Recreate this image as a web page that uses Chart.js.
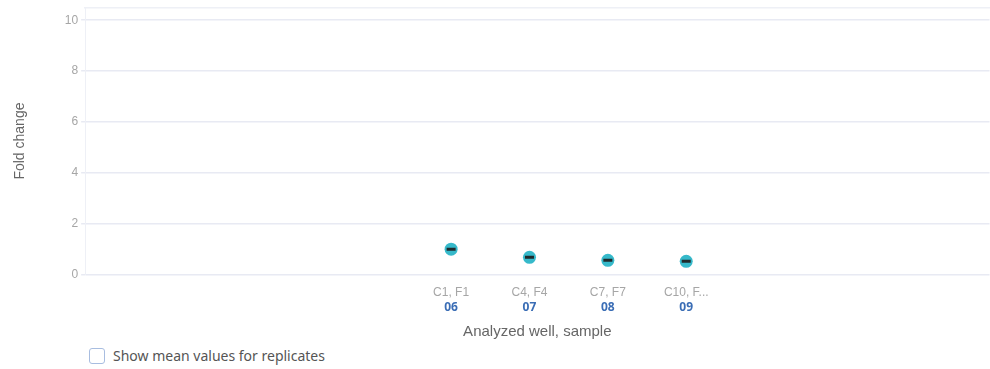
<!DOCTYPE html>
<html lang="en">
<head>
    <meta charset="UTF-8">
    <title>Fold change</title>
    <script src="https://cdn.jsdelivr.net/npm/chart.js"></script>
    <style>
        body {
            margin: 0;
            background: #fff;
            overflow: hidden;
            font-family: "Noto Sans", Lato, sans-serif;
        }
        .wrap {
            position: relative;
            width: 997px;
            height: 345px;
        }
        .mean-toggle {
            position: absolute;
            left: 89px;
            top: 346px;
            display: flex;
            align-items: center;
            font-size: 14px;
            color: #555;
        }
        .mean-toggle span.box {
            width: 14px;
            height: 14px;
            border: 1.5px solid #a8bde0;
            border-radius: 3px;
            margin-right: 8px;
        }
    </style>
</head>
<body>

    <div class="wrap">
        <canvas id="foldChart"></canvas>
    </div>
    <div class="mean-toggle"><span class="box"></span>Show mean values for replicates</div>

    <script>
        // wells and sample ids
        const wells = ["C1, F1", "C4, F4", "C7, F7", "C10, F..."];
        const samples = ["06", "07", "08", "09"];
        const foldChange = [1.0, 0.68, 0.56, 0.52];
        const yTicks = [0, 2, 4, 6, 8, 10];

        const points = foldChange.map((v, i) => ({ x: i, y: v }));

        // second tick line (sample id) drawn in blue bold
        const sampleLabels = {
            id: 'sampleLabels',
            afterDraw(chart) {
                const xs = chart.scales.x;
                const c = chart.ctx;
                c.save();
                c.font = 'bold 12px "Noto Sans", Lato, sans-serif';
                c.fillStyle = '#3a6db5';
                c.textAlign = 'center';
                c.textBaseline = 'middle';
                samples.forEach((s, i) => {
                    c.fillText(s, xs.getPixelForValue(i), xs.top + 33);
                });
                c.restore();
            }
        };

        new Chart(document.getElementById('foldChart'), {
            type: 'scatter',
            data: {
                datasets: [{
                    // mean dash on top
                    data: points,
                    pointStyle: 'line',
                    pointRadius: 4.5,
                    pointHoverRadius: 4.5,
                    borderColor: '#1f2a2c',
                    borderWidth: 3
                }, {
                    data: points,
                    pointStyle: 'circle',
                    pointRadius: 6.5,
                    pointHoverRadius: 6.5,
                    backgroundColor: '#36b9ca',
                    borderColor: '#36b9ca',
                    borderWidth: 0
                }]
            },
            options: {
                responsive: true,
                maintainAspectRatio: false,
                animation: false,
                layout: { padding: { top: 6, left: 8, right: 0, bottom: 0 } },
                plugins: {
                    legend: { display: false },
                    tooltip: { enabled: false }
                },
                scales: {
                    x: {
                        type: 'linear',
                        min: -4.67,
                        max: 6.87,
                        afterBuildTicks: (scale) => {
                            scale.ticks = wells.map((w, i) => ({ value: i }));
                        },
                        grid: { display: false, drawTicks: false },
                        border: { display: false },
                        ticks: {
                            padding: 10,
                            autoSkip: false,
                            maxRotation: 0,
                            color: '#a6a6a6',
                            font: { size: 12, lineHeight: 1.35 },
                            callback: (v) => [wells[v], ' ']
                        },
                        title: {
                            display: true,
                            text: 'Analyzed well, sample',
                            color: '#666',
                            font: { size: 15 },
                            padding: { top: -4 }
                        }
                    },
                    // top frame line
                    xTop: {
                        type: 'linear',
                        position: 'top',
                        min: -4.67,
                        max: 6.87,
                        grid: { drawOnChartArea: false, drawTicks: false },
                        border: { display: true, color: '#eef0f6', width: 1.5 },
                        ticks: { display: false }
                    },
                    y: {
                        min: 0,
                        max: 10.5,
                        afterBuildTicks: (scale) => {
                            scale.ticks = yTicks.map(v => ({ value: v }));
                        },
                        afterFit: (scale) => {
                            scale.paddingTop = 0;
                        },
                        grid: {
                            color: '#e8eaf3',
                            lineWidth: 1.5,
                            tickLength: 4
                        },
                        border: { display: true, color: '#eef0f6' },
                        ticks: {
                            padding: 3,
                            color: '#a6a6a6',
                            font: { size: 12 }
                        },
                        title: {
                            display: true,
                            text: 'Fold change',
                            color: '#666',
                            font: { size: 14 },
                            padding: { bottom: 33 }
                        }
                    }
                }
            },
            plugins: [sampleLabels]
        });
    </script>

</body>
</html>
